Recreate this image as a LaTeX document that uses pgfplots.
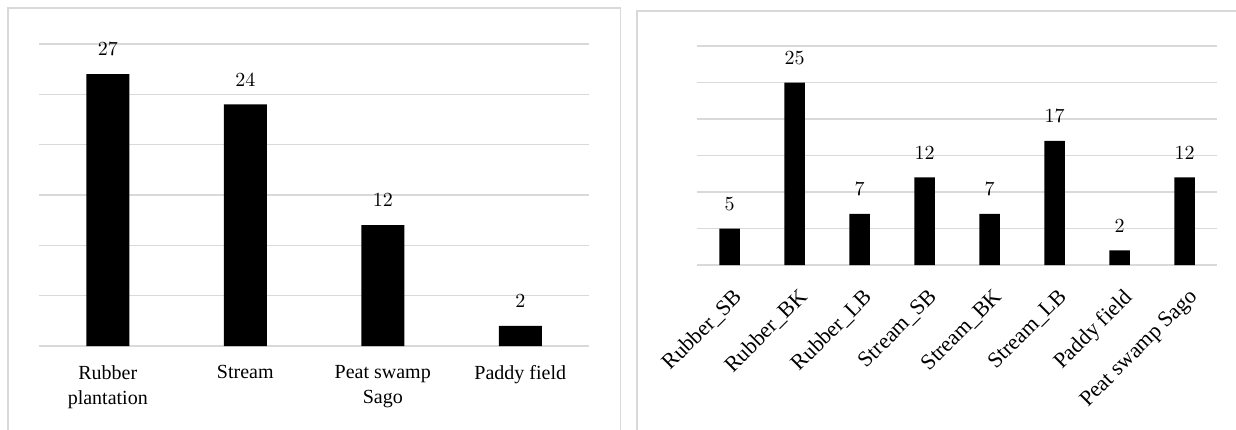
\documentclass[border=0pt]{standalone}
\usepackage{pgfplots}
\pgfplotsset{compat=1.18}
\usepackage{fontspec}
\setmainfont{Liberation Serif}
\definecolor{gridgray}{RGB}{217,217,217}

\pgfplotsset{
  panel/.style={
    ybar, bar shift=0pt, clip=false,
    scale only axis,
    anchor=south west,
    ymin=0, ymax=30, ytick={0,5,...,30}, yticklabels={},
    ymajorgrids, grid style={gridgray, line width=0.75pt},
    axis line style={draw=none}, tick style={draw=none},
    major tick length=0pt,
    nodes near coords,
    every node near coord/.append style={font=\fontsize{10.3}{12}\selectfont,
      anchor=south, inner sep=0pt, yshift=9pt, text=black},
  },
}

\begin{document}
\begin{tikzpicture}
  \path[use as bounding box] (0,0) rectangle (618pt,-214.5pt);
  % panel frames
  \draw[gridgray, line width=0.75pt] (4pt,-240pt) |- (310.35pt,-4pt) -- (310.35pt,-240pt);
  \draw[gridgray, line width=0.75pt] (318.5pt,-240pt) |- (650pt,-5.5pt);

  % left: habitat totals
  \begin{axis}[panel,
    at={(19.5pt,-173pt)}, width=275pt, height=151pt,
    xmin=-0.5, xmax=3.5, xtick={0,1,2,3},
    xticklabels={{Rubber\\plantation},Stream,{Peat swamp\\Sago},{Paddy field}},
    xticklabel style={align=center, font=\fontsize{10}{12.5}\selectfont,
      inner sep=0pt, yshift=-9.5pt},
    bar width=21.5pt]
    \addplot[fill=black, draw=none] coordinates {(0,27) (1,24) (2,12) (3,2)};
  \end{axis}

  % right: sub-habitats
  \begin{axis}[panel,
    at={(348.5pt,-132.5pt)}, width=260pt, height=109.5pt,
    xmin=-0.5, xmax=7.5, xtick={0,...,7},
    xticklabels={Rubber\_SB,Rubber\_BK,Rubber\_LB,Stream\_SB,Stream\_BK,Stream\_LB,Paddy field,Peat swamp Sago},
    xticklabel style={font=\fontsize{11}{13}\selectfont, inner sep=0pt,
      xshift=1.5pt, yshift=-11pt, rotate=45, anchor=north east},
    bar width=10.25pt]
    \addplot[fill=black, draw=none] coordinates {(0,5) (1,25) (2,7) (3,12) (4,7) (5,17) (6,2) (7,12)};
  \end{axis}
\end{tikzpicture}
\end{document}
